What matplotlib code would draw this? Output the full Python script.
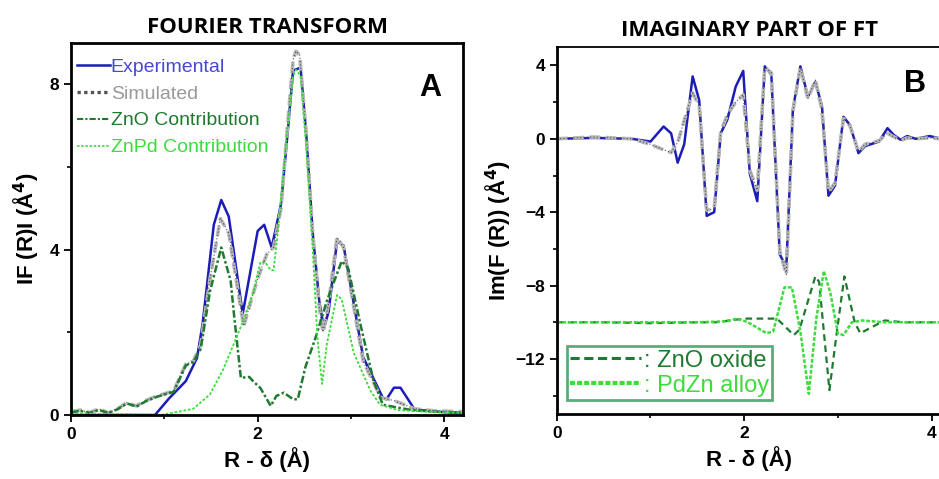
import matplotlib
matplotlib.use("Agg")
import matplotlib.pyplot as plt
from matplotlib.lines import Line2D

plt.rcParams['font.family'] = ['Liberation Sans', 'DejaVu Sans']

# ---- panel A: |F(R)| ----
a_exp_x = [0, 0.3, 0.6, 0.9, 1.05, 1.23, 1.35, 1.41, 1.53, 1.61, 1.69, 1.84, 2.0, 2.07, 2.15, 2.25,
           2.32, 2.38, 2.46, 2.52, 2.59, 2.66, 2.71, 2.76, 2.85, 2.92, 3.13, 3.34, 3.38, 3.46, 3.53,
           3.68, 3.9, 4.2]
a_exp_y = [0, 0, 0, 0, 0.4, 0.82, 1.38, 2.2, 4.6, 5.2, 4.8, 2.45, 4.45, 4.6, 4.05, 5.1,
           6.8, 8.33, 8.4, 6.8, 4.4, 2.75, 2.1, 2.5, 4.2, 4.1, 1.4, 0.42, 0.38, 0.66, 0.66,
           0.14, 0.08, 0.05]

a_sim_x = [0, 0.1, 0.2, 0.3, 0.4, 0.5, 0.6, 0.7, 0.8, 0.92, 1.1, 1.23, 1.31, 1.39, 1.49, 1.6,
           1.69, 1.85, 2.0, 2.1, 2.17, 2.25, 2.32, 2.38, 2.41, 2.45, 2.52, 2.59, 2.66, 2.70,
           2.76, 2.85, 2.92, 3.13, 3.32, 3.46, 3.68, 3.9, 4.2]
a_sim_y = [0.08, 0.12, 0.06, 0.15, 0.05, 0.15, 0.3, 0.22, 0.35, 0.46, 0.58, 1.23, 1.3, 1.7, 3.3, 4.75,
           4.4, 2.15, 3.3, 3.9, 4.05, 5.0, 7.0, 8.6, 8.8, 8.7, 6.8, 4.4, 2.6, 2.0,
           2.7, 4.3, 4.05, 1.3, 0.42, 0.35, 0.15, 0.1, 0.08]

a_zno_x = [0, 0.1, 0.2, 0.3, 0.4, 0.5, 0.6, 0.7, 0.8, 0.92, 1.1, 1.23, 1.31, 1.39, 1.49, 1.61,
           1.71, 1.75, 1.82, 1.91, 1.95, 2.03, 2.14, 2.2, 2.28, 2.38, 2.43, 2.51, 2.62, 2.74,
           2.9, 2.97, 3.1, 3.24, 3.34, 3.5, 3.65, 3.9, 4.2]
a_zno_y = [0.06, 0.1, 0.05, 0.12, 0.05, 0.14, 0.28, 0.2, 0.33, 0.44, 0.56, 1.2, 1.28, 1.6, 3.0, 4.05,
           3.25, 2.35, 0.9, 0.92, 0.82, 0.65, 0.22, 0.46, 0.54, 0.38, 0.38, 1.15, 1.87, 2.75,
           3.72, 3.55, 2.2, 0.84, 0.25, 0.18, 0.12, 0.08, 0.05]

a_znpd_x = [0, 0.3, 0.6, 0.96, 1.15, 1.31, 1.49, 1.63, 1.75, 1.84, 1.95, 2.03, 2.08, 2.14, 2.17,
            2.22, 2.3, 2.38, 2.41, 2.46, 2.52, 2.59, 2.64, 2.69, 2.74, 2.85, 2.9, 3.03, 3.21,
            3.31, 3.5, 3.8, 4.2]
a_znpd_y = [0.04, 0.03, 0.02, 0.0, 0.08, 0.15, 0.5, 1.1, 1.75, 2.25, 2.96, 3.7, 3.7, 3.5, 3.5,
            4.5, 6.5, 8.2, 8.35, 8.2, 6.5, 4.0, 1.87, 0.75, 1.7, 2.9, 2.8, 1.5, 0.58,
            0.25, 0.12, 0.08, 0.05]

# ---- panel B: Im(F(R)) ----
b_x = [0, 0.4, 0.8, 1.0, 1.14, 1.22, 1.29, 1.36, 1.45, 1.52, 1.6, 1.68, 1.75, 1.82, 1.91, 1.99,
       2.06, 2.14, 2.22, 2.29, 2.38, 2.45, 2.52, 2.60, 2.68, 2.76, 2.83, 2.9, 2.97, 3.06, 3.13,
       3.22, 3.29, 3.44, 3.53, 3.6, 3.67, 3.74, 3.83, 3.98, 4.11]
b_exp_y = [0, 0.05, 0, -0.15, 0.67, 0.3, -1.3, -0.3, 3.4, 2.1, -4.2, -4.0, 0.3, 1.04, 2.85, 3.7,
           -1.9, -3.4, 3.95, 3.5, -6.3, -7.0, 1.6, 3.95, 2.3, 3.1, 1.8, -3.1, -2.55, 1.2, 0.75,
           -0.78, -0.4, -0.15, 0.58, 0.2, -0.05, 0.15, 0, 0.15, 0]
b_sim_y = [0, 0.1, 0, -0.3, -0.6, -0.75, -0.2, 1.0, 2.5, 1.8, -3.9, -3.8, 0.4, 1.3, 2.0, 2.4,
           -1.7, -2.8, 3.9, 3.6, -6.1, -7.4, 1.5, 3.9, 2.2, 3.2, 1.6, -2.9, -2.4, 1.1, 0.7,
           -0.7, -0.3, -0.1, 0.3, 0.1, -0.1, 0.05, 0, 0.05, 0]

b_zno_x = [0, 0.5, 1.0, 1.5, 1.7, 2.0, 2.35, 2.53, 2.59, 2.76, 2.8, 2.91, 2.99, 3.07, 3.18, 3.24,
           3.35, 3.5, 3.7, 4.11]
b_zno_y = [-10, -10, -10.05, -10, -10, -9.8, -9.8, -10.7, -10.4, -7.5, -7.8, -13.7, -10.5, -7.5, -10,
           -10.6, -10.3, -9.9, -10, -10]

b_pdzn_x = [0, 0.5, 1.0, 1.5, 1.8, 1.93, 2.04, 2.24, 2.31, 2.43, 2.51, 2.6, 2.69, 2.77, 2.85, 2.92,
            3.0, 3.06, 3.15, 3.26, 3.5, 4.11]
b_pdzn_y = [-10, -10, -10, -10, -9.95, -9.8, -10, -10.6, -10.5, -8.1, -8.1, -10.5, -13.9, -9.8, -7.2,
            -8.4, -10.6, -10.7, -10, -9.9, -10, -10]

BLUE = '#1c1cb8'
BLUE_TXT = '#4848d8'
DKGREEN = '#1f7a30'
LTGREEN = '#3cdc3c'
GRAY = '#b8b8b8'

fig = plt.figure(figsize=(9.39, 4.79), dpi=100)
axA = fig.add_axes([0.0756, 0.1336, 0.4175, 0.777])
axB = fig.add_axes([0.593, 0.1357, 0.41, 0.766])


def draw_sim(ax, x, y):
    ax.plot(x, y, color=GRAY, lw=2.6, ls=(0, (3, 1.5)))
    ax.plot(x, y, color='#4a4a5a', lw=0.8, ls=(0, (1, 2)))


# panel A
axA.plot(a_exp_x, a_exp_y, color=BLUE, lw=1.8)
draw_sim(axA, a_sim_x, a_sim_y)
axA.plot(a_zno_x, a_zno_y, color=DKGREEN, lw=1.8, ls=(0, (3, 1, 1, 1)))
axA.plot(a_znpd_x, a_znpd_y, color=LTGREEN, lw=1.3, ls=(0, (1.5, 1)))
axA.set_xlim(0, 4.2)
axA.set_ylim(0, 9)
axA.set_xticks([0, 2, 4])
axA.set_xticks([1, 3], minor=True)
axA.set_yticks([0, 4, 8])
axA.set_yticks([2, 6], minor=True)
axA.set_title('FOURIER TRANSFORM', fontsize=16, fontweight='bold', family='Open Sans', pad=7)
axA.set_xlabel('R - δ (Å)', fontsize=16, fontweight='bold', labelpad=4)
axA.set_ylabel('IF (R)I (Å$^\\mathbf{4}$)', fontsize=16, fontweight='bold', labelpad=6)
axA.text(0.916, 0.879, 'A', transform=axA.transAxes, fontsize=22, fontweight='bold',
         ha='center', va='center')
handlesA = [Line2D([], [], color=BLUE, lw=1.8),
            Line2D([], [], color='#555555', lw=2.4, ls=(0, (1, 1))),
            Line2D([], [], color=DKGREEN, lw=1.5, ls=(0, (3, 1, 1, 1))),
            Line2D([], [], color=LTGREEN, lw=1.2, ls=(0, (1.5, 1)))]
axA.legend(handlesA, ['Experimental', 'Simulated', 'ZnO Contribution', 'ZnPd Contribution'],
           loc='upper left', bbox_to_anchor=(0.0, 0.975), frameon=False, fontsize=14,
           handlelength=1.7, handletextpad=0.05, borderaxespad=0.0, labelspacing=0.48,
           borderpad=0.3, labelcolor=[BLUE_TXT, '#9a9a9a', DKGREEN, LTGREEN])

# panel B
axB.plot(b_x, b_exp_y, color=BLUE, lw=1.8)
draw_sim(axB, b_x, b_sim_y)
axB.plot(b_zno_x, b_zno_y, color=DKGREEN, lw=1.6, ls=(0, (3, 2)))
axB.plot(b_pdzn_x, b_pdzn_y, color=LTGREEN, lw=1.8, ls=(0, (1.5, 0.7)))
axB.set_xlim(0, 4.11)
axB.set_ylim(-15, 5)
axB.set_xticks([0, 2, 4])
axB.set_xticks([1, 3], minor=True)
axB.set_yticks([4, 0, -4, -8, -12])
axB.set_yticks([2, -2, -6, -10, -14], minor=True)
axB.set_title('IMAGINARY PART OF FT', fontsize=16, fontweight='bold', family='Open Sans', pad=8)
axB.set_xlabel('R - δ (Å)', fontsize=16, fontweight='bold', labelpad=4)
axB.set_ylabel('Im(F (R)) (Å$^\\mathbf{4}$)', fontsize=16, fontweight='bold', labelpad=2)
axB.text(0.96, 0.9, 'B', transform=axB.transAxes, fontsize=22, fontweight='bold',
         ha='right', va='center')
handlesB = [Line2D([], [], color=DKGREEN, lw=2.2, ls=(0, (3, 1.5))),
            Line2D([], [], color=LTGREEN, lw=3.0, ls=(0, (1.2, 0.5)))]
legB = axB.legend(handlesB, [': ZnO oxide', ': PdZn alloy'], loc='lower left',
                  bbox_to_anchor=(0.026, 0.038), borderaxespad=0.0, fontsize=17,
                  handlelength=3.0, handletextpad=0.1, labelspacing=0.12, borderpad=0.15,
                  fancybox=False, labelcolor=[DKGREEN, LTGREEN])
legB.get_frame().set_edgecolor('#2e9a5a')
legB.get_frame().set_linewidth(2)

for ax in (axA, axB):
    ax.tick_params(which='major', length=5, width=1.3, labelsize=12.5, direction='out')
    ax.tick_params(which='minor', length=3, width=1.2)
    for lab in ax.get_xticklabels() + ax.get_yticklabels():
        lab.set_fontweight('bold')
    for sp in ax.spines.values():
        sp.set_linewidth(2)
axB.spines['right'].set_visible(False)
axB.spines['top'].set_linewidth(1.3)

fig.savefig('out.png', dpi=100)
